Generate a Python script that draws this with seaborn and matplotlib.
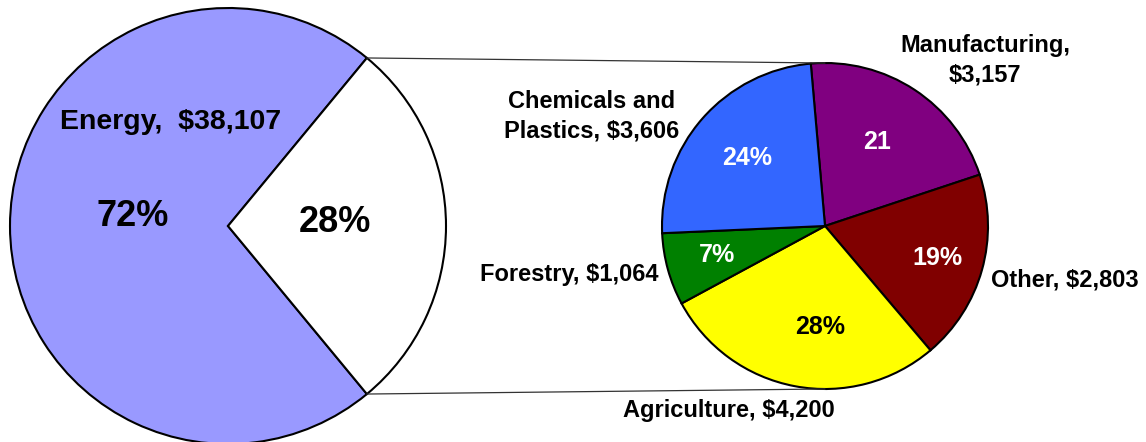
import numpy as np
import matplotlib
matplotlib.use('Agg')
import matplotlib.pyplot as plt
import seaborn as sns

# Data
energy_label = 'Energy,  $38,107'
energy_value = 38107
sectors = ['Manufacturing', 'Other', 'Agriculture', 'Forestry', 'Chemicals and Plastics']
sector_values = [3157, 2803, 4200, 1064, 3606]
sector_pct_labels = ['21', '19%', '28%', '7%', '24%']
sector_labels = ['Manufacturing,\n$3,157', 'Other, $2,803', 'Agriculture, $4,200',
                 'Forestry, $1,064', 'Chemicals and\nPlastics, $3,606']
sector_colors = ['#800080', '#800000', '#FFFF00', '#008000', '#3366FF']
sector_pct_colors = ['white', 'white', 'black', 'white', 'white']

sns.set_theme(style='white')
plt.rcParams['font.family'] = ['Liberation Sans', 'DejaVu Sans']
plt.rcParams['text.color'] = 'black'

W, H = 1146, 442
fig = plt.figure(figsize=(W / 100, H / 100), dpi=100)
ax = fig.add_axes([0, 0, 1, 1])

rest_value = sum(sector_values)
total = energy_value + rest_value
half_angle = rest_value / total * 360 / 2

# Left pie: Energy vs the rest
lc, lr = (228, 216), 218
ax.pie([energy_value, rest_value], colors=['#9999FF', 'white'],
       startangle=half_angle, counterclock=True, center=lc, radius=lr,
       wedgeprops=dict(edgecolor='black', linewidth=1.5))

# Right pie: breakdown of the rest
rc, rr = (825, 216), 163
ax.pie(sector_values, colors=sector_colors, startangle=95, counterclock=False,
       center=rc, radius=rr, wedgeprops=dict(edgecolor='black', linewidth=1.5))

# Connector lines
a = np.deg2rad(half_angle)
ax.plot([lc[0] + lr * np.cos(a), rc[0]], [lc[1] + lr * np.sin(a), rc[1] + rr],
        color='#333333', lw=0.9)
ax.plot([lc[0] + lr * np.cos(a), rc[0]], [lc[1] - lr * np.sin(a), rc[1] - rr],
        color='#333333', lw=0.9)

bold = dict(fontweight='bold', ha='center', va='center')
ax.text(171, H - 122, energy_label, fontsize=20.5, color='black', **bold)
ax.text(133, H - 217, '72%', fontsize=26, color='black', **bold)
ax.text(335, H - 222, '28%', fontsize=26, color='black', **bold)

pct_pos = [(877, 142), (937, 258), (820, 327), (717, 255), (747, 158)]
for lab, col, (x, y) in zip(sector_pct_labels, sector_pct_colors, pct_pos):
    ax.text(x, H - y, lab, color=col, fontsize=18, **bold)

lab_pos = [(985, 60), (1065, 280), (729, 410), (569, 275), (592, 116)]
for lab, (x, y) in zip(sector_labels, lab_pos):
    ax.text(x, H - y, lab, fontsize=17, linespacing=1.35, color='black', **bold)

ax.set_xlim(0, W)
ax.set_ylim(0, H)
ax.set_aspect('equal')
ax.axis('off')

plt.savefig('out.png', dpi=100)
